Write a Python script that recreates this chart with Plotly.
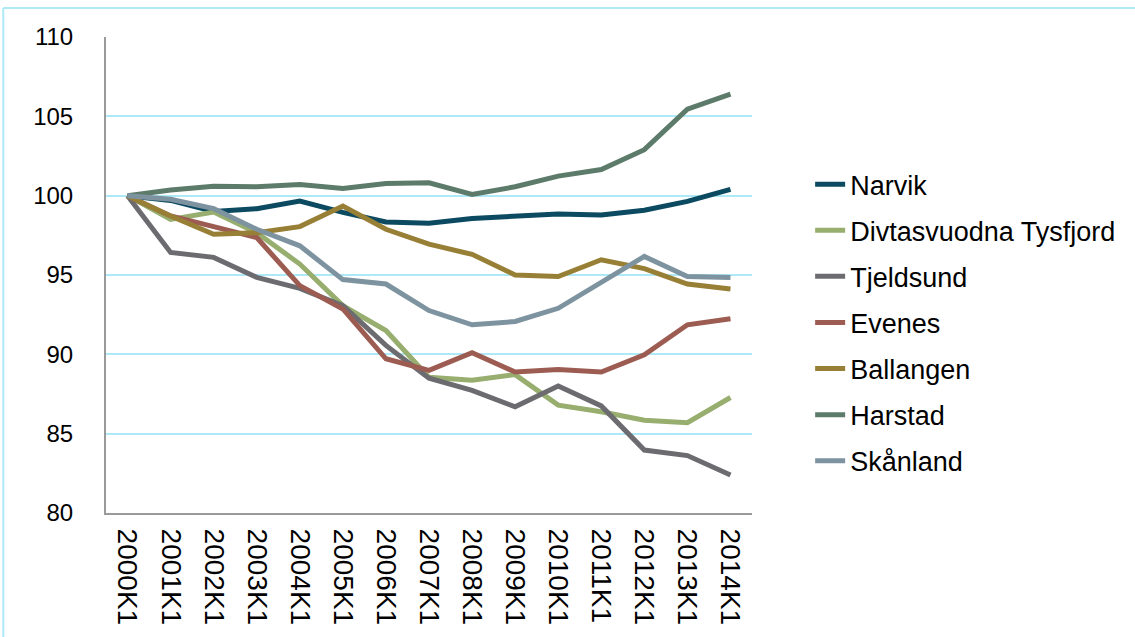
import plotly.graph_objects as go

categories = ["2000K1", "2001K1", "2002K1", "2003K1", "2004K1", "2005K1", "2006K1", "2007K1",
              "2008K1", "2009K1", "2010K1", "2011K1", "2012K1", "2013K1", "2014K1"]

narvik = [100, 99.7, 99.0, 99.18, 99.66, 98.95, 98.34, 98.26, 98.56, 98.72, 98.85, 98.78, 99.08, 99.64, 100.4]
divtasvuodna = [100, 98.5, 98.97, 97.67, 95.69, 93.07, 91.5, 88.55, 88.36, 88.72, 86.8, 86.38, 85.85, 85.69, 87.28]
tjeldsund = [100, 96.42, 96.11, 94.85, 94.16, 93.07, 90.56, 88.5, 87.73, 86.69, 88.0, 86.75, 83.97, 83.62, 82.4]
evenes = [100, 98.72, 98.05, 97.36, 94.33, 92.86, 89.72, 88.99, 90.1, 88.89, 89.05, 88.89, 89.97, 91.86, 92.24]
ballangen = [100, 98.72, 97.57, 97.67, 98.05, 99.35, 97.88, 96.94, 96.3, 95.0, 94.9, 95.96, 95.4, 94.43, 94.12]
harstad = [100, 100.35, 100.6, 100.56, 100.7, 100.45, 100.77, 100.81, 100.08, 100.56, 101.23, 101.65, 102.9, 105.45, 106.4]
skanland = [100, 99.77, 99.18, 97.88, 96.84, 94.71, 94.43, 92.76, 91.86, 92.07, 92.9, 94.54, 96.17, 94.9, 94.85]

series_names = ["Narvik", "Divtasvuodna Tysfjord", "Tjeldsund", "Evenes", "Ballangen", "Harstad", "Skånland"]
series_values = [narvik, divtasvuodna, tjeldsund, evenes, ballangen, harstad, skanland]
series_colors = ["#0b4a60", "#97ae6f", "#6c6b70", "#9c5c52", "#987f36", "#5d7b6a", "#7e93a0"]

y_ticks = [80, 85, 90, 95, 100, 105, 110]

fig = go.Figure()
for i, (name, vals, col) in enumerate(zip(series_names, series_values, series_colors)):
    fig.add_trace(go.Scatter(
        x=categories, y=vals, name=name, mode="lines",
        line=dict(color=col, width=5),
        legendgroup="g%d" % i,
    ))

FONT = "Liberation Sans, Arial, sans-serif"

fig.update_layout(
    width=1135, height=637,
    margin=dict(l=106, r=383, t=37, b=122),
    paper_bgcolor="white", plot_bgcolor="white",
    font=dict(family=FONT, color="black"),
    showlegend=True,
    legend=dict(
        x=1.09, xanchor="left", y=0.40, yanchor="middle",
        font=dict(size=27, family=FONT, color="black"),
        tracegroupgap=8,
        bgcolor="rgba(0,0,0,0)",
        itemwidth=30,
    ),
    xaxis=dict(
        type="category",
        range=[-0.5, 14.5],
        showgrid=False,
        showline=True, linecolor="#9a9a9a", linewidth=2,
        ticks="", tickangle=90,
        tickfont=dict(size=28, family=FONT, color="black"),
        ticklabelstandoff=8,
        zeroline=False,
    ),
    yaxis=dict(
        range=[80, 110],
        tickvals=y_ticks,
        showgrid=True, gridcolor="#aee9f7", gridwidth=2,
        showline=True, linecolor="#9a9a9a", linewidth=2,
        ticks="",
        tickfont=dict(size=24, family=FONT, color="black"),
        ticklabelstandoff=26,
        zeroline=False,
    ),
    shapes=[
        dict(type="line", xref="paper", yref="paper", x0=-0.159, x1=1.7, y0=1.0607, y1=1.0607,
             line=dict(color="#aee9f7", width=2)),
        dict(type="line", xref="paper", yref="paper", x0=-0.159, x1=-0.159, y0=1.0607, y1=-0.4,
             line=dict(color="#aee9f7", width=2)),
    ],
)

fig.write_html("out.html", config={"displayModeBar": False},
               post_script="document.body.style.margin='0';document.body.style.padding='0';")
